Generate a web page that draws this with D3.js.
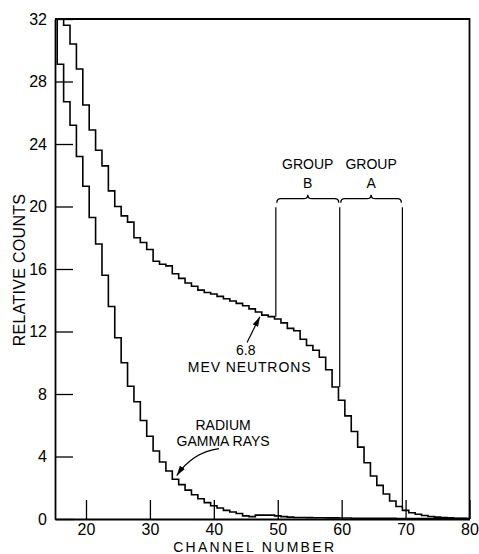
<!DOCTYPE html>
<html>
<head>
<meta charset="utf-8">
<script src="https://cdn.jsdelivr.net/npm/d3@7"></script>
<style>
  body { margin: 0; background: #fff; }
  svg { display: block; font-family: "Liberation Sans", Arial, sans-serif; }
</style>
</head>
<body>
<svg></svg>
<script>
const width = 479
const height = 554
const margin = {top: 19, right: 9, bottom: 35, left: 55}

// channel numbers 15..80
const firstChannel = 15
const neutronCounts = [36, 34, 31.6, 30.4, 28.8, 26.5, 24.9, 23.6, 22.6, 21.0,
  20.0, 19.4, 19.0, 18.0, 17.7, 17.25, 16.5, 16.3, 16.2, 15.7,
  15.4, 15.1, 14.9, 14.65, 14.5, 14.4, 14.25, 14.1, 13.95, 13.8,
  13.65, 13.45, 13.25, 13.05, 12.95, 12.8, 12.55, 12.2, 12.05, 11.5,
  11.1, 10.8, 10.35, 9.55, 8.45, 7.6, 6.6, 5.6, 4.6, 3.6,
  2.75, 2.15, 1.6, 1.15, 0.8, 0.55, 0.4, 0.3, 0.22, 0.16,
  0.12, 0.09, 0.07, 0.05, 0.04, 0.03]
const gammaCounts = [34, 29.1, 26.7, 25.2, 23.2, 21.3, 19.3, 17.6, 15.6, 13.6,
  11.6, 10.0, 8.5, 7.5, 6.3, 5.3, 4.35, 3.65, 3.07, 2.54,
  2.2, 1.85, 1.55, 1.3, 1.05, 0.85, 0.7, 0.55, 0.45, 0.35,
  0.2, 0.15, 0.25, 0.25, 0.25, 0.2, 0.15, 0.12, 0.1, 0.1,
  0.09, 0.08, 0.08, 0.07, 0.07, 0.06, 0.06, 0.05, 0.05, 0.05,
  0.04, 0.04, 0.04, 0.04, 0.03, 0.03, 0.03, 0.03, 0.03, 0.03,
  0.03, 0.03, 0.03, 0.03, 0.03, 0.03]
const channels = neutronCounts.map((d, i) => firstChannel + i)

const xTicks = [20, 30, 40, 50, 60, 70, 80]
const yTicks = [0, 4, 8, 12, 16, 20, 24, 28, 32]

// group boundaries (channel) and labels
const groupEdges = [49.7, 59.7, 69.5]
const groupNames = ['B', 'A']

const x = d3.scaleLinear().domain([15.15, 80]).range([margin.left, width - margin.right - 0.5])
const y = d3.scaleLinear().domain([0, 32]).range([height - margin.bottom, margin.top])

const svg = d3.select('svg').attr('width', width).attr('height', height)

svg.append('defs').append('clipPath').attr('id', 'plot')
  .append('rect')
  .attr('x', x(15.15)).attr('y', y(32))
  .attr('width', x(80) - x(15.15)).attr('height', y(0) - y(32))

// axes
const yAxis = d3.axisLeft(y).tickValues(yTicks).tickSize(-18).tickSizeOuter(0).tickPadding(8)
const xAxis = d3.axisBottom(x).tickValues(xTicks).tickSize(-19).tickSizeOuter(0).tickPadding(5)

const gy = svg.append('g').attr('transform', `translate(${margin.left},0)`).call(yAxis)
const gx = svg.append('g').attr('transform', `translate(0,${y(0)})`).call(xAxis)

gy.select('.domain').attr('stroke-width', 1.8)
gx.select('.domain').attr('stroke-width', 2.2)
svg.selectAll('.tick line').attr('stroke-width', 1.3)
svg.selectAll('.tick text').attr('font-size', 16).attr('fill', '#000')
  .attr('font-family', '"Liberation Sans", Arial, sans-serif')

// frame top and right
svg.append('path')
  .attr('d', `M${x(15.15)},${y(32)}H${x(80)}V${y(0)}`)
  .attr('fill', 'none').attr('stroke', '#000').attr('stroke-width', 1.8)

// step curves
const line = d3.line().curve(d3.curveStep).x(d => x(d[0])).y(d => y(d[1]))
const curves = svg.append('g').attr('clip-path', 'url(#plot)')
curves.append('path')
  .datum(channels.map((c, i) => [c, neutronCounts[i]]))
  .attr('d', line).attr('fill', 'none').attr('stroke', '#000').attr('stroke-width', 1.6)
curves.append('path')
  .datum(channels.map((c, i) => [c, gammaCounts[i]]))
  .attr('d', line).attr('fill', 'none').attr('stroke', '#000').attr('stroke-width', 1.6)

// group lines and braces
const neutronAt = c => neutronCounts[Math.floor(c) - firstChannel]
groupEdges.forEach(e => {
  svg.append('line')
    .attr('x1', x(e)).attr('x2', x(e))
    .attr('y1', y(19.95)).attr('y2', y(neutronAt(e)))
    .attr('stroke', '#000').attr('stroke-width', 1.2)
})

const braceY = y(20.5)
function brace(x0, x1) {
  const m = (x0 + x1) / 2
  return `M${x0},${braceY + 4} Q${x0},${braceY} ${x0 + 4},${braceY} L${m - 4},${braceY} Q${m},${braceY} ${m},${braceY - 4} Q${m},${braceY} ${m + 4},${braceY} L${x1 - 4},${braceY} Q${x1},${braceY} ${x1},${braceY + 4}`
}
groupNames.forEach((name, i) => {
  const x0 = x(groupEdges[i]) + 1, x1 = x(groupEdges[i + 1]) - 1
  svg.append('path').attr('d', brace(x0, x1))
    .attr('fill', 'none').attr('stroke', '#000').attr('stroke-width', 1.3)
  svg.append('text').attr('x', (x0 + x1) / 2).attr('y', y(22.4))
    .attr('text-anchor', 'middle').attr('font-size', 14).text('GROUP')
  svg.append('text').attr('x', (x0 + x1) / 2).attr('y', y(21.2))
    .attr('text-anchor', 'middle').attr('font-size', 14).text(name)
})

// annotations
svg.append('defs').append('marker')
  .attr('id', 'arrow').attr('viewBox', '0 0 10 6').attr('refX', 10).attr('refY', 3)
  .attr('markerWidth', 10).attr('markerHeight', 6).attr('markerUnits', 'userSpaceOnUse')
  .attr('orient', 'auto')
  .append('path').attr('d', 'M0,0 L10,3 L0,6 Z').attr('fill', '#000')

svg.append('text').attr('x', x(45.0)).attr('y', y(10.47))
  .attr('text-anchor', 'middle').attr('font-size', 14).text('6.8')
svg.append('text').attr('x', x(45.6)).attr('y', y(9.4))
  .attr('text-anchor', 'middle').attr('font-size', 14).attr('letter-spacing', 0.9)
  .text('MEV NEUTRONS')
svg.append('line')
  .attr('x1', x(45.2)).attr('y1', y(11.3)).attr('x2', x(47.2)).attr('y2', y(12.95))
  .attr('stroke', '#000').attr('stroke-width', 1.2).attr('marker-end', 'url(#arrow)')

svg.append('text').attr('x', x(41.45)).attr('y', y(5.67))
  .attr('text-anchor', 'middle').attr('font-size', 14).text('RADIUM')
svg.append('text').attr('x', x(41.45)).attr('y', y(4.65))
  .attr('text-anchor', 'middle').attr('font-size', 14).text('GAMMA RAYS')
svg.append('path')
  .attr('d', `M${x(40.8)},${y(4.5)} Q${x(36.7)},${y(4.27)} ${x(34.2)},${y(2.78)}`)
  .attr('fill', 'none').attr('stroke', '#000').attr('stroke-width', 1.2)
  .attr('marker-end', 'url(#arrow)')

// axis titles
svg.append('text').attr('x', x(46.4)).attr('y', 551.5)
  .attr('text-anchor', 'middle').attr('font-size', 14).attr('letter-spacing', 2.3)
  .text('CHANNEL NUMBER')
svg.append('text').attr('transform', 'translate(25,270) rotate(-90)')
  .attr('text-anchor', 'middle').attr('font-size', 16).attr('letter-spacing', 0.3)
  .text('RELATIVE COUNTS')
</script>
</body>
</html>
